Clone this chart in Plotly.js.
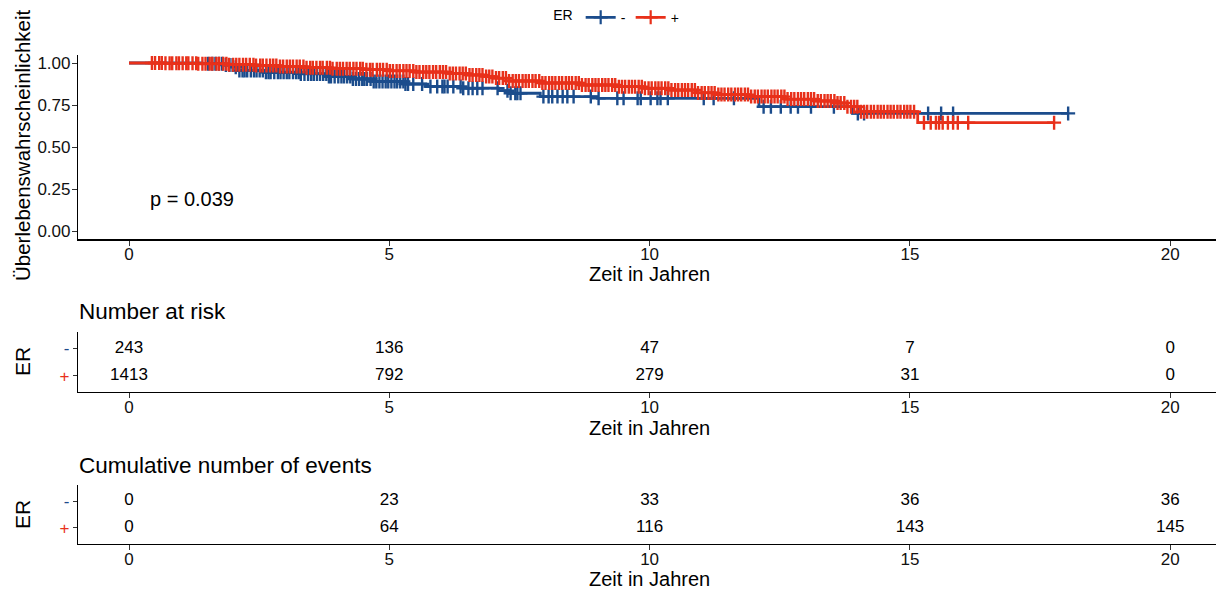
<!DOCTYPE html>
<html>
<head>
<meta charset="utf-8">
<script src="https://cdn.plot.ly/plotly-3.0.1.min.js"></script>
<style>html,body{margin:0;padding:0;background:#fff;}#chart{width:1216px;height:589px;}</style>
</head>
<body>
<div id="chart"></div>
<script>
// ---------- data ----------
const groupNames = ['-', '+'];
const colNeg = '#1B4C8C';
const colPos = '#E8301A';

// ER- Kaplan-Meier steps (time in years, survival probability)
const erNegTime = [0, 1.4, 1.8, 2.0, 2.1, 2.6, 3.3, 3.8, 4.3, 4.7, 5.3, 5.7, 6.4, 7.1, 7.3, 7.9, 9.0, 12.1, 13.9];
const erNegSurv = [1, 0.996, 0.988, 0.975, 0.955, 0.945, 0.935, 0.92, 0.905, 0.89, 0.875, 0.86, 0.85, 0.835, 0.82, 0.80, 0.79, 0.74, 0.70];
// ER- censoring times
const erNegCens = [1.52, 1.6, 1.66, 1.73, 1.79, 1.86, 1.93, 1.99, 2.05, 2.12, 2.18, 2.22, 2.27, 2.34, 2.4, 2.45, 2.51, 2.57, 2.63, 2.68, 2.72, 2.79, 2.86, 2.91, 2.97, 3.03, 3.08, 3.15, 3.21, 3.26, 3.3, 3.37, 3.44, 3.5, 3.55, 3.61, 3.67, 3.73, 3.79, 3.84, 3.88, 3.95, 4.02, 4.08, 4.13, 4.19, 4.25, 4.3, 4.36, 4.42, 4.48, 4.52, 4.57, 4.64, 4.7, 4.75, 4.81, 4.87, 4.93, 4.98, 5.04, 5.1, 5.15, 5.21, 5.27, 5.31, 5.36,
  5.46, 5.63, 5.79, 5.92, 6.02, 6.06, 6.12, 6.23, 6.37, 6.42, 6.52, 6.60, 6.69, 6.79, 7.08, 7.27, 7.33, 7.42, 7.46, 7.52, 7.96, 8.06, 8.13, 8.23, 8.33, 8.42, 8.54, 8.87, 9.02, 9.38, 9.50, 9.77, 9.83, 10.02, 10.15, 10.21, 10.35,
  11.04, 11.23, 11.62, 12.19, 12.33, 12.52, 12.71, 12.85, 13.1, 13.54, 14.0, 14.12, 15.35, 15.6, 15.83, 18.04];

// ER+ Kaplan-Meier steps
const erPosTime = [0, 0.7, 1.3, 1.9, 2.4, 2.9, 3.4, 3.9, 4.5, 5.0, 5.5, 6.1, 6.5, 6.8, 7.0, 7.3, 7.9, 8.7, 9.4, 9.9, 10.4, 10.9, 11.3, 11.9, 12.6, 13.2, 13.6, 13.8, 14.05, 15.15];
const erPosSurv = [1, 0.998, 0.995, 0.99, 0.985, 0.979, 0.972, 0.966, 0.96, 0.953, 0.946, 0.938, 0.929, 0.92, 0.91, 0.893, 0.881, 0.869, 0.859, 0.85, 0.839, 0.822, 0.812, 0.80, 0.785, 0.774, 0.762, 0.74, 0.71, 0.645];
// ER+ censoring times
const erPosCens = [0.44,0.5,0.58,0.63,0.7,0.78,0.83,0.91,0.96,1.03,1.1,1.14,1.22,1.29,1.33,1.41,1.47,1.55,1.6,1.68,1.73,1.81,1.87,1.92,2.0,2.06,2.12,2.19,2.25,2.32,2.39,2.44,2.52,2.57,2.64,2.71,2.77,2.83,2.9,2.96,
  3.03,3.09,3.15,3.22,3.28,3.35,3.41,3.48,3.53,3.6,3.67,3.72,3.8,3.86,3.91,3.99,4.05,4.11,4.18,4.24,4.31,4.37,4.44,4.49,4.56,4.63,4.68,4.76,4.82,4.88,4.95,
  5.01,5.07,5.14,5.2,5.27,5.33,5.39,5.46,5.52,5.58,5.65,5.71,5.77,5.84,5.9,5.97,6.03,6.09,6.16,6.22,6.28,6.35,6.41,6.47,6.54,6.6,6.67,6.73,6.79,6.86,6.92,6.98,
  7.05,7.11,7.18,7.24,7.3,7.37,7.43,7.49,7.56,7.62,7.68,7.75,7.81,7.88,7.94,8.0,8.07,8.13,8.19,8.26,8.32,8.39,8.45,8.51,8.58,8.64,8.7,8.77,8.83,8.9,8.96,
  9.02,9.09,9.15,9.21,9.28,9.34,9.41,9.47,9.53,9.6,9.66,9.72,9.79,9.85,9.91,9.98,10.04,10.11,10.17,10.23,10.3,10.36,10.42,10.49,10.55,10.62,10.68,10.74,10.81,10.87,10.93,
  11.0,11.06,11.13,11.19,11.25,11.32,11.38,11.44,11.51,11.57,11.64,11.7,11.76,11.83,11.89,11.95,12.02,12.08,12.15,12.21,12.27,12.34,12.4,12.46,12.53,12.59,12.65,12.72,12.78,12.85,12.91,12.97,
  13.04,13.1,13.16,13.23,13.29,13.36,13.42,13.48,13.55,13.61,13.67,13.74,13.8,13.87,13.93,13.99,14.06,14.12,14.18,14.25,14.31,14.38,14.44,14.5,14.57,14.63,14.69,14.76,14.82,14.89,14.95,15.01,15.08,
  15.27,15.4,15.5,15.56,15.63,15.73,15.83,15.92,16.12,17.77];

// Tables
const tableTimes = [0, 5, 10, 15, 20];
const riskNeg = [243, 136, 47, 7, 0];
const riskPos = [1413, 792, 279, 31, 0];
const eventsNeg = [0, 23, 33, 36, 36];
const eventsPos = [0, 64, 116, 143, 145];
const xTicks = [0, 5, 10, 15, 20];
const yTicks = [0, 0.25, 0.5, 0.75, 1];
const yTickText = ['0.00', '0.25', '0.50', '0.75', '1.00'];
const pValueText = 'p = 0.039';

// ---------- helpers ----------
function survAt(times, surv, t) {
  let s = surv[0];
  for (let i = 0; i < times.length; i++) { if (times[i] <= t) s = surv[i]; }
  return s;
}
function stepTrace(times, surv, cens, color) {
  const last = Math.max(...cens);
  return {
    x: times.concat([last]), y: surv.concat([surv[surv.length - 1]]),
    mode: 'lines', line: {shape: 'hv', color: color, width: 2.8},
    showlegend: false, hoverinfo: 'skip', xaxis: 'x', yaxis: 'y'
  };
}
function censTrace(times, surv, cens, color) {
  return {
    x: cens, y: cens.map(t => survAt(times, surv, t)),
    mode: 'markers', marker: {symbol: 'cross-thin', size: 10, color: color, line: {color: color, width: 2.4}},
    showlegend: false, hoverinfo: 'skip', xaxis: 'x', yaxis: 'y'
  };
}
function legendTrace(name, color) {
  return {
    x: [null], y: [null], name: name, mode: 'lines+markers',
    line: {color: color, width: 2.8},
    marker: {symbol: 'cross-thin', size: 10, color: color, line: {color: color, width: 2.2}},
    xaxis: 'x', yaxis: 'y'
  };
}
function tableTrace(vals, row, xa, ya) {
  return {
    x: tableTimes, y: tableTimes.map(() => row), text: vals.map(String),
    mode: 'text', textfont: {size: 17, color: '#000'}, textposition: 'middle center',
    showlegend: false, hoverinfo: 'skip', xaxis: xa, yaxis: ya
  };
}

const traces = [
  stepTrace(erNegTime, erNegSurv, erNegCens, colNeg),
  censTrace(erNegTime, erNegSurv, erNegCens, colNeg),
  stepTrace(erPosTime, erPosSurv, erPosCens, colPos),
  censTrace(erPosTime, erPosSurv, erPosCens, colPos),
  legendTrace(groupNames[0], colNeg),
  legendTrace(groupNames[1], colPos),
  tableTrace(riskNeg, 1, 'x2', 'y2'),
  tableTrace(riskPos, 0, 'x2', 'y2'),
  tableTrace(eventsNeg, 1, 'x3', 'y3'),
  tableTrace(eventsPos, 0, 'x3', 'y3')
];

const xDom = [78 / 1216, 1];
const xRange = [-0.98, 20.88];
function py(px) { return 1 - px / 589; }
const baseX = {
  domain: xDom, range: xRange, tickvals: xTicks, showline: true, linecolor: '#000', linewidth: 1.1,
  ticks: 'outside', ticklen: 5, tickcolor: '#333', tickwidth: 1, tickfont: {size: 17, color: '#111'},
  ticklabelstandoff: -6,
  showgrid: false, zeroline: false, fixedrange: true
};
const rowTicks = {
  tickvals: [0, 1],
  ticktext: ['<span style="color:' + colPos + '">+</span>', '<span style="color:' + colNeg + '">-</span>']
};
const tableY = Object.assign({
  range: [-0.6, 1.6], showline: true, linecolor: '#000', linewidth: 1.1,
  ticks: 'outside', ticklen: 4, tickcolor: '#333', tickfont: {size: 17},
  showgrid: false, zeroline: false, fixedrange: true
}, rowTicks);

function ann(text, x, y, opts) {
  return Object.assign({text: text, x: x, y: y, xref: 'paper', yref: 'paper', showarrow: false,
    xanchor: 'center', yanchor: 'middle', font: {size: 20, color: '#000'}}, opts || {});
}

const layout = {
  width: 1216, height: 589,
  margin: {l: 0, r: 0, t: 0, b: 0},
  paper_bgcolor: '#fff', plot_bgcolor: '#fff',
  font: {family: '"Liberation Sans", Arial, sans-serif', color: '#000'},
  showlegend: true,
  legend: {
    orientation: 'h', x: 0.508, xanchor: 'center', y: 0.997, yanchor: 'top',
    title: {text: 'ER', side: 'left', font: {size: 14}}, font: {size: 14},
    bgcolor: 'rgba(0,0,0,0)', itemwidth: 30
  },
  xaxis: Object.assign({}, baseX, {anchor: 'y'}),
  yaxis: {domain: [py(239.4), py(54.6)], range: [-0.05, 1.05], tickvals: yTicks, ticktext: yTickText,
    showline: true, linecolor: '#000', linewidth: 1.1, ticks: 'outside', ticklen: 5, tickcolor: '#333',
    tickfont: {size: 17, color: '#111'}, ticklabelstandoff: -2, showgrid: false, zeroline: false, fixedrange: true, anchor: 'x'},
  xaxis2: Object.assign({}, baseX, {anchor: 'y2'}),
  yaxis2: Object.assign({}, tableY, {domain: [py(392), py(332)], anchor: 'x2'}),
  xaxis3: Object.assign({}, baseX, {anchor: 'y3'}),
  yaxis3: Object.assign({}, tableY, {domain: [py(544), py(485)], anchor: 'x3'}),
  annotations: [
    ann('Überlebenswahrscheinlichkeit', 22 / 1216, py(146), {textangle: -90, font: {size: 20.5, color: '#000'}}),
    ann('Zeit in Jahren', 649 / 1216, py(274)),
    ann(pValueText, 0.36, 0.19, {xref: 'x', yref: 'y', xanchor: 'left', font: {size: 20, color: '#000'}}),
    ann('Number at risk', 77 / 1216, py(311), {xanchor: 'left', font: {size: 22.5, color: '#000'}}),
    ann('ER', 22 / 1216, py(362), {textangle: -90, font: {size: 21, color: '#000'}}),
    ann('Zeit in Jahren', 649 / 1216, py(428)),
    ann('Cumulative number of events', 77 / 1216, py(465), {xanchor: 'left', font: {size: 22.5, color: '#000'}}),
    ann('ER', 22 / 1216, py(515), {textangle: -90, font: {size: 21, color: '#000'}}),
    ann('Zeit in Jahren', 649 / 1216, py(579))
  ]
};

Plotly.newPlot('chart', traces, layout, {displayModeBar: false, staticPlot: true});
</script>
</body>
</html>
